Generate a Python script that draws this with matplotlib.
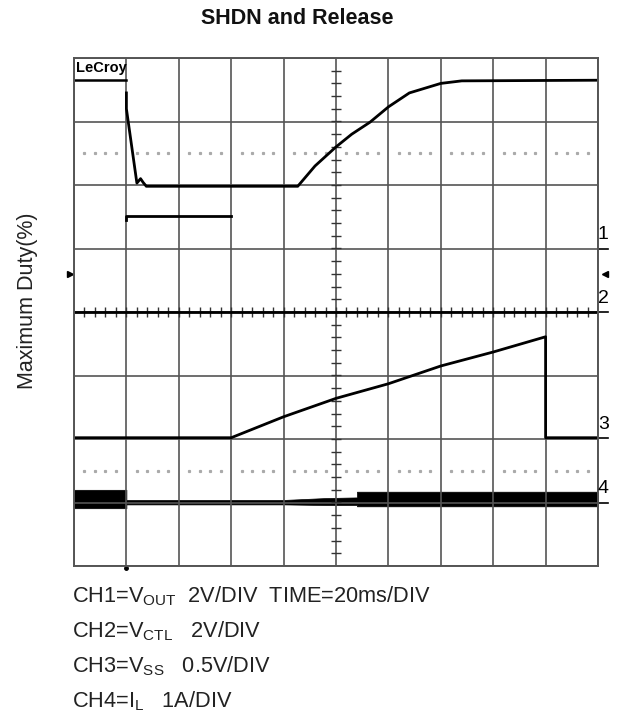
import numpy as np
import matplotlib
matplotlib.use('Agg')
import matplotlib.pyplot as plt

plt.rcParams['font.family'] = ['Liberation Sans', 'DejaVu Sans']
plt.rcParams['mathtext.fontset'] = 'custom'
plt.rcParams['mathtext.rm'] = 'Liberation Sans'

# scope traces, in divisions (x: 0..10, y: -4..4, center = 0)
ch1_x = [1.0, 1.0, 1.2, 1.27, 1.32, 1.38, 4.27, 4.6, 5.0, 5.3, 5.65, 6.0, 6.4, 7.0, 7.4, 10.0]
ch1_y = [3.45, 3.2, 2.03, 2.1, 2.04, 1.98, 1.98, 2.3, 2.6, 2.8, 2.99, 3.23, 3.45, 3.6, 3.64, 3.65]

ch2_x = [0.0, 10.0]
ch2_y = [0.0, 0.0]
ch2_hi_x = [1.0, 1.0, 3.0]
ch2_hi_y = [1.45, 1.51, 1.51]

ch3_x = [0.0, 3.0, 4.0, 5.0, 6.0, 7.0, 8.0, 9.0, 9.0, 10.0]
ch3_y = [-1.98, -1.98, -1.65, -1.36, -1.13, -0.85, -0.63, -0.39, -1.98, -1.98]

# inductor current: noisy band, upper/lower envelopes
ch4_x = [0.0, 1.0, 1.0, 4.0, 4.8, 5.4, 5.4, 10.0]
ch4_hi = [-2.80, -2.80, -2.96, -2.96, -2.93, -2.92, -2.83, -2.83]
ch4_lo = [-3.09, -3.09, -3.03, -3.03, -3.04, -3.04, -3.06, -3.06]

ch_labels = ['1', '2', '3', '4']
ch_levels = [1.0, 0.0, -1.98, -3.0]
trig_level = 0.6

legend_lines = [
    r'CH1=V$_{\mathregular{OUT}}$  2V/DIV  TIME=20ms/DIV',
    r'CH2=V$_{\mathregular{CTL}}$   2V/DIV',
    r'CH3=V$_{\mathregular{SS}}$   0.5V/DIV',
    r'CH4=I$_{\mathregular{L}}$   1A/DIV',
]

fig = plt.figure(figsize=(6.2, 7.2), dpi=100)
ax = fig.add_axes([74 / 620, 1 - 566 / 720, 524 / 620, 508 / 720])
ax.set_xlim(0, 10)
ax.set_ylim(-4, 4)
ax.set_xticks(range(11))
ax.set_yticks(range(-4, 5))
ax.tick_params(length=0, labelleft=False, labelbottom=False)
ax.grid(True, color='#555555', lw=1.2)
for s in ax.spines.values():
    s.set_color('#555555')
    s.set_linewidth(1.4)

# center axes with minor ticks
ax.vlines(np.arange(0.2, 10, 0.2), -0.085, 0.085, color='#333333', lw=1.0)
ax.hlines(np.arange(-3.8, 4, 0.2), 4.9, 5.1, color='#333333', lw=1.0)

# dotted half-division lines
dx = np.array([k + 0.2 * j for k in range(10) for j in range(1, 5)])
for yy in (2.5, -2.5):
    ax.plot(dx, np.full_like(dx, yy), ls='none', marker='s', ms=1.3, color='#aaaaaa')

# traces
ax.fill_between(ch4_x, ch4_lo, ch4_hi, color='black', lw=0.5)
ax.plot(ch1_x, ch1_y, color='black', lw=2.0)
ax.plot(ch2_x, ch2_y, color='black', lw=2.0)
ax.plot(ch2_hi_x, ch2_hi_y, color='black', lw=2.0)
ax.plot(ch3_x, ch3_y, color='black', lw=2.0)

# channel markers on the right
for lab, lev in zip(ch_labels, ch_levels):
    ax.plot([10.0, 10.2], [lev, lev], color='black', lw=1.2, clip_on=False)
    ax.text(10.1, lev + 0.08, lab, ha='center', va='bottom', fontsize=14,
            family=['Liberation Sans Narrow', 'Liberation Sans'], clip_on=False)
ax.plot([-0.08], [trig_level], marker='>', ms=5, color='black', clip_on=False)
ax.plot([10.14], [trig_level], marker='<', ms=5, color='black', clip_on=False)
ax.plot([1.0], [-4.03], marker='o', ms=2.5, color='black', clip_on=False)

# LeCroy badge
ax.text(0.03, 3.96, 'LeCroy', ha='left', va='top', fontsize=10.5, fontweight='bold',
        family=['Liberation Sans Narrow', 'Liberation Sans'])
ax.plot([0.0, 1.0], [3.65, 3.65], color='black', lw=1.8)

fig.text(297 / 620, 1 - 18 / 720, 'SHDN and Release', ha='center', va='center',
         fontsize=15.5, fontweight='bold', color='#111111')
fig.text(28 / 620, 1 - 301 / 720, 'Maximum Duty(%)', ha='center', va='center',
         rotation=90, fontsize=15.5, color='#222222')

for i, line in enumerate(legend_lines):
    fig.text(72 / 620, 1 - (602 + 35 * i) / 720, line, ha='left', va='baseline',
             fontsize=15.7, color='#222222')

fig.savefig('out.png', dpi=100)
